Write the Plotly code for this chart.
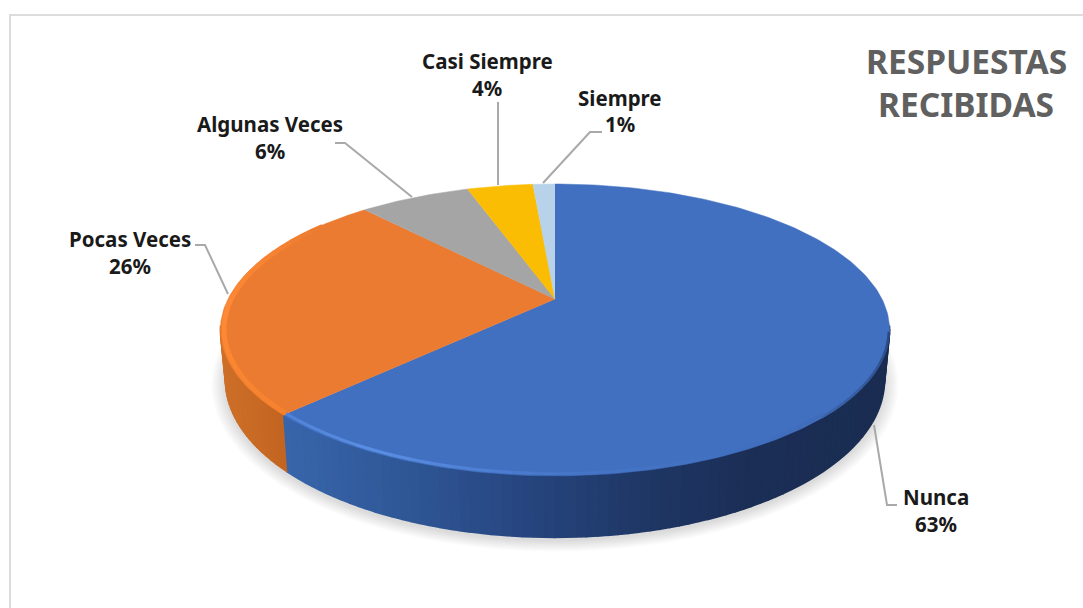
import numpy as np
import plotly.graph_objects as go

categories = ["Nunca", "Pocas Veces", "Algunas Veces", "Casi Siempre", "Siempre"]
values = [62.5, 25.75, 6.55, 3.9, 1.3]
percent_labels = ["63%", "26%", "6%", "4%", "1%"]
title_lines = ["RESPUESTAS", "RECIBIDAS"]

# --- styling / layout geometry (not data) ---
top_colors = ["#4270C0", "#EA7B30", "#A5A5A5", "#FBBC04", "#B8D2E9"]
W, H = 1083, 608
TOP = dict(x0=555, y0=299, A=327, B=139.4, k=0.212)
LOW = dict(x0=555, y0=347, A=322, B=150, k=0.212)
label_pos = [(936, 497, 524), (130, 239, 266), (270, 124, 151), (487, 61, 88), (620, 98, 124)]
leaders = [
    [(897, 505), (887, 505), (874, 425)],
    [(195, 245), (205, 245), (228, 294)],
    [(335, 143), (345, 143), (412, 197)],
    [(498, 102), (498, 185)],
    [(602, 132), (590, 132), (543, 183)],
]
FONT = "Noto Sans, Open Sans, sans-serif"


def proj(theta, p, r=1.0):
    u, v = r * np.sin(theta), r * np.cos(theta)
    w = 1 + p["k"] * v
    return p["x0"] + p["A"] * u / w, p["y0"] - p["B"] * v / w


def mix(stops, t):
    xs = [s[0] for s in stops]
    rgb = [np.interp(t, xs, [int(s[1][i:i + 2], 16) for s in stops]) for i in (1, 3, 5)]
    return "rgb(%d,%d,%d)" % tuple(int(round(c)) for c in rgb)


def poly(fig, x, y, color, lw=0.0, line=None):
    fig.add_trace(go.Scatter(x=list(x), y=list(y), mode="lines", fill="toself", fillcolor=color,
                             line=dict(color=line or color, width=lw), hoverinfo="skip", showlegend=False))


def stroke(fig, x, y, color, lw):
    fig.add_trace(go.Scatter(x=list(x), y=list(y), mode="lines", line=dict(color=color, width=lw),
                             hoverinfo="skip", showlegend=False))


fig = go.Figure()

# frame
stroke(fig, [10, 10, W], [H, 15, 15], "#DCDCDC", 2)

# soft shadow under the disc
ring = np.linspace(0, 2 * np.pi, 200)
for i in range(12):
    sx, sy = proj(ring, dict(LOW, y0=LOW["y0"] + 3, A=LOW["A"] + 14 - i * 1.2, B=LOW["B"] + 9 - i * 0.75))
    poly(fig, sx, sy, "rgba(0,0,0,0.011)")

# slice boundaries, clockwise from 12 o'clock
edges = np.radians(np.concatenate([[0], np.cumsum(values)]) * 3.6)

# side wall
blue_side = [(285, "#3865AB"), (400, "#2F5897"), (520, "#274680"), (640, "#1F3766"), (750, "#1B2E56"), (890, "#1A2C50")]
orange_side = [(220, "#CE7029"), (290, "#C26420")]
th = np.radians(np.arange(100.5, 261, 1.5))
for a, b in zip(th[:-1], th[1:]):
    t = np.array([a, b])
    x1, y1 = proj(t, TOP)
    x2, y2 = proj(t[::-1], LOW)
    xm = (x1.mean() + x2.mean()) / 2
    c = mix(blue_side, xm) if (a + b) / 2 < edges[1] else mix(orange_side, xm)
    poly(fig, np.r_[x1, x2], np.r_[y1, y2], c, 1.6)

# top face
for i in range(len(values)):
    t = np.linspace(edges[i], edges[i + 1], max(8, int(np.degrees(edges[i + 1] - edges[i]))))
    x, y = proj(t, TOP)
    poly(fig, np.r_[TOP["x0"], x], np.r_[TOP["y0"], y], top_colors[i], 0.5)

# bevel highlights on the front edge
def rim(deg_from, deg_to, stops, lw, r):
    d = np.arange(deg_from, deg_to, 3.0)
    for a in d:
        t = np.radians([a, a + 3.2])
        x, y = proj(t, TOP, r)
        stroke(fig, x, y, mix(stops, a), lw)

bound = np.degrees(edges[1])
rim(103, 135, [(103, "#2A4880"), (135, "#3A66AF")], 2.5, 0.998)
rim(135, bound, [(135, "#3F6CBA"), (178, "#4676C8"), (205, "#5A8EE4"), (225, "#4F82D6")], 3, 0.99)
rim(bound, 305, [(bound, "#F5822F"), (262, "#FF8A36"), (292, "#F58232"), (305, "#EA7B30")], 5, 0.99)

# leader lines
for pts in leaders:
    stroke(fig, [p[0] for p in pts], [p[1] for p in pts], "#A9A9A9", 2)

anns = []
for cat, pct, (x, y1, y2) in zip(categories, percent_labels, label_pos):
    for txt, y in ((cat, y1), (pct, y2)):
        anns.append(dict(x=x, y=y, text=f"<b>{txt}</b>", showarrow=False, xref="x", yref="y",
                         font=dict(family=FONT, size=20.5, color="#1A1A1A")))
for txt, y in zip(title_lines, (61, 104)):
    anns.append(dict(x=966, y=y, text=f"<b>{txt}</b>", showarrow=False, xref="x", yref="y",
                     font=dict(family=FONT, size=33.5, color="#606060")))

fig.update_layout(
    width=W, height=H, margin=dict(l=0, r=0, t=0, b=0), autosize=False,
    paper_bgcolor="white", plot_bgcolor="white", showlegend=False, annotations=anns,
    xaxis=dict(range=[0, W], visible=False, fixedrange=True),
    yaxis=dict(range=[H, 0], visible=False, fixedrange=True),
)
fig.write_html("out.html", config=dict(displayModeBar=False),
               post_script="document.body.style.margin='0';document.body.style.overflow='hidden';")
